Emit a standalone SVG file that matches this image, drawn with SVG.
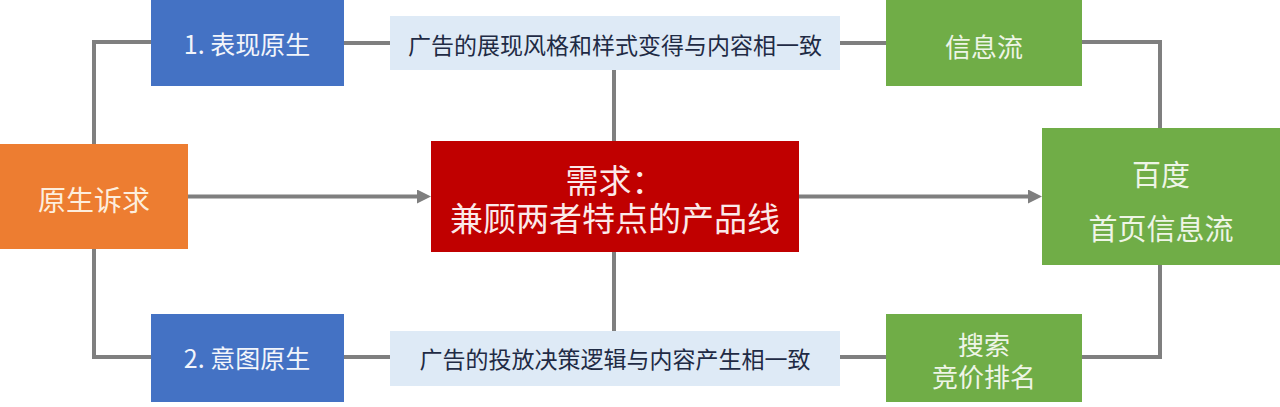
<svg xmlns="http://www.w3.org/2000/svg" width="1280" height="407" viewBox="0 0 1280 407">
  <style>
    text { font-family: "Noto Sans CJK SC", "Noto Sans", sans-serif; text-anchor: middle; dominant-baseline: central; }
    .blue { fill: #4472C4; }
    .orange { fill: #ED7D31; }
    .red { fill: #C00000; }
    .green { fill: #70AD47; }
    .light { fill: #DEEAF6; }
    .wt { fill: #F2F5FB; font-size: 25px; }
    .ot { fill: #FDEEDD; font-size: 28px; }
    .rt { fill: #FBE9E9; font-size: 33px; }
    .gt { fill: #EEF5E6; font-size: 26px; }
    .gt2 { fill: #EEF5E6; font-size: 29px; }
    .lt { fill: #1F2B45; font-size: 23px; }
    .conn { fill: none; stroke: #7F7F7F; stroke-width: 4; }
  </style>
  <defs>
    <marker id="arrow" markerUnits="userSpaceOnUse" markerWidth="14" markerHeight="14" refX="3" refY="7" orient="auto">
      <path d="M0,0 L14,7 L0,14 z" fill="#7F7F7F"/>
    </marker>
  </defs>
  <rect width="1280" height="407" fill="#FFFFFF"/>

  <g id="connectors">
    <path class="conn" d="M94,144 V42 H151"/>
    <path class="conn" d="M94,249 V357 H151"/>
    <path class="conn" d="M344,43 H390"/>
    <path class="conn" d="M344,357 H390"/>
    <path class="conn" d="M614,70 V141"/>
    <path class="conn" d="M614,252 V331"/>
    <path class="conn" d="M840,43 H886"/>
    <path class="conn" d="M840,357 H886"/>
    <path class="conn" d="M1082,42 H1160 V128"/>
    <path class="conn" d="M1082,357 H1160 V265"/>
    <path class="conn" d="M188,196.5 H420" marker-end="url(#arrow)"/>
    <path class="conn" d="M799,196.5 H1031" marker-end="url(#arrow)"/>
  </g>

  <g id="node-origin">
    <rect class="orange" x="0" y="144" width="188" height="105"/>
    <text class="ot" x="94" y="199">原生诉求</text>
  </g>

  <g id="node-native1">
    <rect class="blue" x="151" y="0" width="193" height="86"/>
    <text class="wt" x="247" y="43">1. 表现原生</text>
  </g>

  <g id="node-native2">
    <rect class="blue" x="151" y="314" width="193" height="88"/>
    <text class="wt" x="247" y="357">2. 意图原生</text>
  </g>

  <g id="node-desc1">
    <rect class="light" x="390" y="16" width="450" height="54"/>
    <text class="lt" x="615" y="44">广告的展现风格和样式变得与内容相一致</text>
  </g>

  <g id="node-desc2">
    <rect class="light" x="390" y="331" width="450" height="55"/>
    <text class="lt" x="615" y="358">广告的投放决策逻辑与内容产生相一致</text>
  </g>

  <g id="node-demand">
    <rect class="red" x="431" y="141" width="368" height="111"/>
    <text class="rt" x="615" y="179"><tspan x="615" y="179">需求：</tspan><tspan x="615" y="217">兼顾两者特点的产品线</tspan></text>
  </g>

  <g id="node-feed">
    <rect class="green" x="886" y="0" width="196" height="86"/>
    <text class="gt" x="984" y="45">信息流</text>
  </g>

  <g id="node-search">
    <rect class="green" x="886" y="314" width="196" height="88"/>
    <text class="gt" x="984" y="343"><tspan x="984" y="343">搜索</tspan><tspan x="984" y="375">竞价排名</tspan></text>
  </g>

  <g id="node-baidu">
    <rect class="green" x="1042" y="128" width="238" height="137"/>
    <text class="gt2" x="1161" y="173">百度</text>
    <text class="gt2" x="1161" y="227">首页信息流</text>
  </g>
</svg>
